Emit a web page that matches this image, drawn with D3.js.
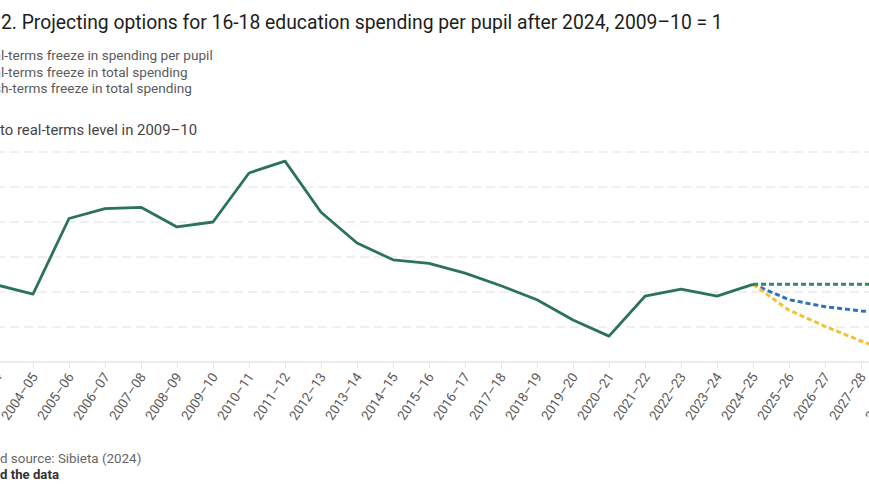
<!DOCTYPE html>
<html lang="en">
<head>
  <meta charset="UTF-8">
  <title>Projecting options for 16-18 education spending per pupil</title>
  <script src="https://d3js.org/d3.v7.min.js"></script>
  <style>
    body {
      margin: 0;
      background: #fff;
      font-family: Roboto, 'Noto Sans', sans-serif;
      overflow: hidden;
    }
    svg { display: block; }
  </style>
</head>
<body>
  <script>
    // year labels along the x axis
    var years = ["2003–04", "2004–05", "2005–06", "2006–07", "2007–08", "2008–09",
      "2009–10", "2010–11", "2011–12", "2012–13", "2013–14", "2014–15", "2015–16",
      "2016–17", "2017–18", "2018–19", "2019–20", "2020–21", "2021–22", "2022–23",
      "2023–24", "2024–25", "2025–26", "2026–27", "2027–28", "2028–29"];

    // spending per pupil relative to 2009-10 (outturn)
    var outturnYears = years.slice(0, 22);
    var outturn = [0.910, 0.897, 1.005, 1.019, 1.021, 0.993, 1.000, 1.070, 1.087, 1.014,
      0.970, 0.946, 0.941, 0.927, 0.909, 0.889, 0.860, 0.837, 0.894, 0.904, 0.894, 0.911];

    // projections from 2024-25 on
    var projYears = years.slice(21);
    var perPupilFreeze = [0.911, 0.911, 0.911, 0.911, 0.911];
    var realTotalFreeze = [0.911, 0.889, 0.879, 0.873, 0.869];
    var cashTotalFreeze = [0.911, 0.874, 0.851, 0.830, 0.812];

    var yTicks = [0.8, 0.85, 0.9, 0.95, 1, 1.05, 1.1];

    var legendLabels = ["Real-terms freeze in spending per pupil",
      "Real-terms freeze in total spending",
      "Cash-terms freeze in total spending"];

    var width = 869, height = 504;
    var green = "#2b7358", greenDash = "#2f8a5f", blue = "#2f6fc0", yellow = "#f1c232";

    var svg = d3.select("body").append("svg")
      .attr("width", width)
      .attr("height", height);

    // the chart is wider than the window: left part is cut off
    var x = d3.scalePoint()
      .domain(years)
      .range([-3, -3 + 36 * (years.length - 1)]);

    var y = d3.scaleLinear()
      .domain([0.8, 1.1])
      .range([362, 152]);

    // places text so that the part after the first `cut` chars starts at visX
    function cutText(sel, full, cut, visX) {
      sel.text(full.slice(cut));
      var wRest = sel.node().getComputedTextLength();
      sel.text(full);
      var wFull = sel.node().getComputedTextLength();
      sel.attr("x", visX - (wFull - wRest));
      return sel;
    }

    // title
    cutText(svg.append("text")
      .attr("y", 29)
      .attr("font-size", 19.3)
      .attr("fill", "#1d1d1d"),
      "Figure 2. Projecting options for 16-18 education spending per pupil after 2024, 2009–10 = 1",
      7, 1);

    // legend
    var legendColors = [greenDash, blue, yellow];
    legendLabels.forEach(function(lab, i) {
      var t = svg.append("text")
        .attr("y", 60 + i * 16.5)
        .attr("font-size", 13.6)
        .attr("fill", "#5a5a5a");
      cutText(t, lab, 3, 1);
      var lx = +t.attr("x");
      svg.append("line")
        .attr("x1", lx - 24).attr("x2", lx - 6)
        .attr("y1", 60 + i * 16.5 - 4).attr("y2", 60 + i * 16.5 - 4)
        .attr("stroke", legendColors[i])
        .attr("stroke-width", 3)
        .attr("stroke-dasharray", "4,2");
    });

    // y axis title
    cutText(svg.append("text")
      .attr("y", 135)
      .attr("font-size", 14.9)
      .attr("fill", "#444"),
      "Relative to real-terms level in 2009–10", 9, 0);

    // gridlines
    svg.append("g")
      .selectAll("line")
      .data(yTicks.slice(1))
      .join("line")
      .attr("x1", -60).attr("x2", width)
      .attr("y1", d => y(d)).attr("y2", d => y(d))
      .attr("stroke", "#e0e0e0")
      .attr("stroke-width", 1)
      .attr("stroke-dasharray", "9,5");

    // x axis
    var xAxis = svg.append("g")
      .attr("transform", "translate(0," + y(0.8) + ")")
      .call(d3.axisBottom(x).tickSize(6).tickSizeOuter(0));
    xAxis.select(".domain").attr("stroke", "#e4e4e4").attr("stroke-width", 1.5)
      .attr("d", "M-60,0H" + width);
    xAxis.selectAll(".tick line").attr("stroke", "#e4e4e4");
    xAxis.selectAll(".tick text")
      .attr("font-family", "Roboto, sans-serif")
      .attr("font-size", 13.4)
      .attr("fill", "#5a5a5a")
      .attr("text-anchor", "end")
      .attr("y", 0)
      .attr("dy", "0.35em")
      .attr("transform", "translate(1,12) rotate(-56)");

    var line = d3.line()
      .x(d => x(d[0]))
      .y(d => y(d[1]));

    // projections
    [[realTotalFreeze, blue], [cashTotalFreeze, yellow], [perPupilFreeze, greenDash]].forEach(function(s) {
      svg.append("path")
        .datum(d3.zip(projYears, s[0]))
        .attr("fill", "none")
        .attr("stroke", s[1])
        .attr("stroke-width", 3)
        .attr("stroke-dasharray", "5,3")
        .attr("d", line);
    });

    // outturn
    svg.append("path")
      .datum(d3.zip(outturnYears, outturn))
      .attr("fill", "none")
      .attr("stroke", green)
      .attr("stroke-width", 2.8)
      .attr("stroke-linejoin", "round")
      .attr("d", line);

    // footer
    cutText(svg.append("text")
      .attr("y", 463)
      .attr("font-size", 13.4)
      .attr("fill", "#666"),
      "Note and source: Sibieta (2024)", 7, 0);

    cutText(svg.append("text")
      .attr("y", 479)
      .attr("font-size", 13.2)
      .attr("font-weight", 700)
      .attr("fill", "#333"),
      "Download the data", 7, 0);
  </script>
</body>
</html>
